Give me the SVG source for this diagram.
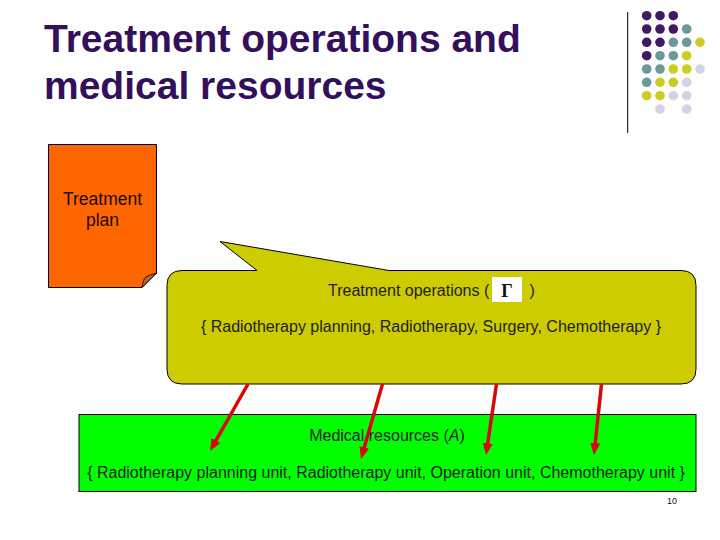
<svg xmlns="http://www.w3.org/2000/svg" width="720" height="540" viewBox="0 0 720 540">
  <style>
    .title { font-family: "Liberation Sans", Arial, sans-serif; font-weight: bold; font-size: 39px; fill: #330f5c; }
    .txt { font-family: "Liberation Sans", Arial, sans-serif; font-size: 16px; fill: #1e1e1e; }
    .doc { font-family: "Liberation Sans", Arial, sans-serif; font-size: 17.5px; fill: #1a0a00; }
    .pu { fill: #3f1a63; }
    .te { fill: #6b9999; }
    .ye { fill: #cccc22; }
    .la { fill: #d3d3e6; }
    .arrow { stroke: #d80808; stroke-width: 3.5; fill: none; marker-end: url(#ah); }
  </style>
  <defs>
    <marker id="ah" viewBox="0 0 12 10" refX="5" refY="5" markerWidth="12" markerHeight="10" markerUnits="userSpaceOnUse" orient="auto">
      <path d="M0,0 L12,5 L0,10 z" fill="#d80808"/>
    </marker>
  </defs>
  <rect width="720" height="540" fill="#ffffff"/>

  <g id="title">
    <text class="title" x="44" y="52">Treatment operations and</text>
    <text class="title" x="44" y="99">medical resources</text>
  </g>

  <g id="decoration">
    <line x1="627.7" y1="12" x2="627.7" y2="133" stroke="#000" stroke-width="1"/>
    <g>
      <circle class="pu" cx="646.7" cy="15.7" r="4.8"/>
      <circle class="pu" cx="660" cy="15.7" r="4.8"/>
      <circle class="pu" cx="673.3" cy="15.7" r="4.8"/>

      <circle class="pu" cx="646.7" cy="29" r="4.8"/>
      <circle class="pu" cx="660" cy="29" r="4.8"/>
      <circle class="pu" cx="673.3" cy="29" r="4.8"/>
      <circle class="te" cx="686.7" cy="29" r="4.8"/>

      <circle class="pu" cx="646.7" cy="42.3" r="4.8"/>
      <circle class="pu" cx="660" cy="42.3" r="4.8"/>
      <circle class="te" cx="673.3" cy="42.3" r="4.8"/>
      <circle class="te" cx="686.7" cy="42.3" r="4.8"/>
      <circle class="ye" cx="700" cy="42.3" r="4.8"/>

      <circle class="pu" cx="646.7" cy="55.7" r="4.8"/>
      <circle class="te" cx="660" cy="55.7" r="4.8"/>
      <circle class="te" cx="673.3" cy="55.7" r="4.8"/>
      <circle class="ye" cx="686.7" cy="55.7" r="4.8"/>

      <circle class="te" cx="646.7" cy="69" r="4.8"/>
      <circle class="te" cx="660" cy="69" r="4.8"/>
      <circle class="ye" cx="673.3" cy="69" r="4.8"/>
      <circle class="ye" cx="686.7" cy="69" r="4.8"/>
      <circle class="la" cx="700" cy="69" r="4.8"/>

      <circle class="te" cx="646.7" cy="82.3" r="4.8"/>
      <circle class="ye" cx="660" cy="82.3" r="4.8"/>
      <circle class="ye" cx="673.3" cy="82.3" r="4.8"/>
      <circle class="la" cx="686.7" cy="82.3" r="4.8"/>

      <circle class="ye" cx="646.7" cy="95.7" r="4.8"/>
      <circle class="ye" cx="660" cy="95.7" r="4.8"/>
      <circle class="la" cx="673.3" cy="95.7" r="4.8"/>
      <circle class="la" cx="686.7" cy="95.7" r="4.8"/>

      <circle class="la" cx="660" cy="109" r="4.8"/>
      <circle class="la" cx="686.7" cy="109" r="4.8"/>
    </g>
  </g>

  <g id="treatment-plan">
    <path d="M48.5,144.5 H156.5 V273 L142,287.5 H48.5 Z" fill="#ff6600" stroke="#000" stroke-width="1"/>
    <path d="M142,287.5 Q143,279 146,277 Q150,274.5 156.5,273 Z" fill="#b8602e" stroke="#000" stroke-width="0.8"/>
    <text class="doc" x="102.5" y="205" text-anchor="middle">Treatment</text>
    <text class="doc" x="102.5" y="226" text-anchor="middle">plan</text>
  </g>

  <g id="treatment-operations">
    <path d="M182,270.5 H257 L220,241.5 L389,270.5 H681 Q696,270.5 696,285.5 V369 Q696,384 681,384 H182 Q167,384 167,369 V285.5 Q167,270.5 182,270.5 Z" fill="#cccc00" stroke="#000" stroke-width="1"/>
    <text class="txt" x="328" y="296">Treatment operations (</text>
    <rect x="492" y="277" width="30" height="25" fill="#ffffff"/>
    <text x="507" y="296.5" text-anchor="middle" font-family="'Liberation Serif', 'Times New Roman', serif" font-weight="bold" font-size="18" fill="#111">Γ</text>
    <text class="txt" x="529.5" y="296">)</text>
    <text class="txt" x="431" y="332" text-anchor="middle">{ Radiotherapy planning, Radiotherapy, Surgery, Chemotherapy }</text>
  </g>

  <g id="medical-resources">
    <rect x="79" y="414.5" width="617" height="77" fill="#00ff00" stroke="#000" stroke-width="1"/>
    <text class="txt" x="387" y="440.5" text-anchor="middle">Medical resources (<tspan font-style="italic">A</tspan>)</text>
    <text class="txt" x="386" y="478" text-anchor="middle">{ Radiotherapy planning unit, Radiotherapy unit, Operation unit, Chemotherapy unit }</text>
  </g>

  <g id="connectors">
    <line class="arrow" x1="248" y1="384" x2="213.5" y2="444.9"/>
    <line class="arrow" x1="382.5" y1="384" x2="362.9" y2="452.3"/>
    <line class="arrow" x1="496.5" y1="384" x2="487" y2="448.1"/>
    <line class="arrow" x1="601.5" y1="384" x2="594.7" y2="448"/>
  </g>

  <g id="page-number">
    <text x="672" y="504" text-anchor="middle" font-family="'Liberation Sans', Arial, sans-serif" font-size="9" fill="#111">10</text>
  </g>
</svg>
